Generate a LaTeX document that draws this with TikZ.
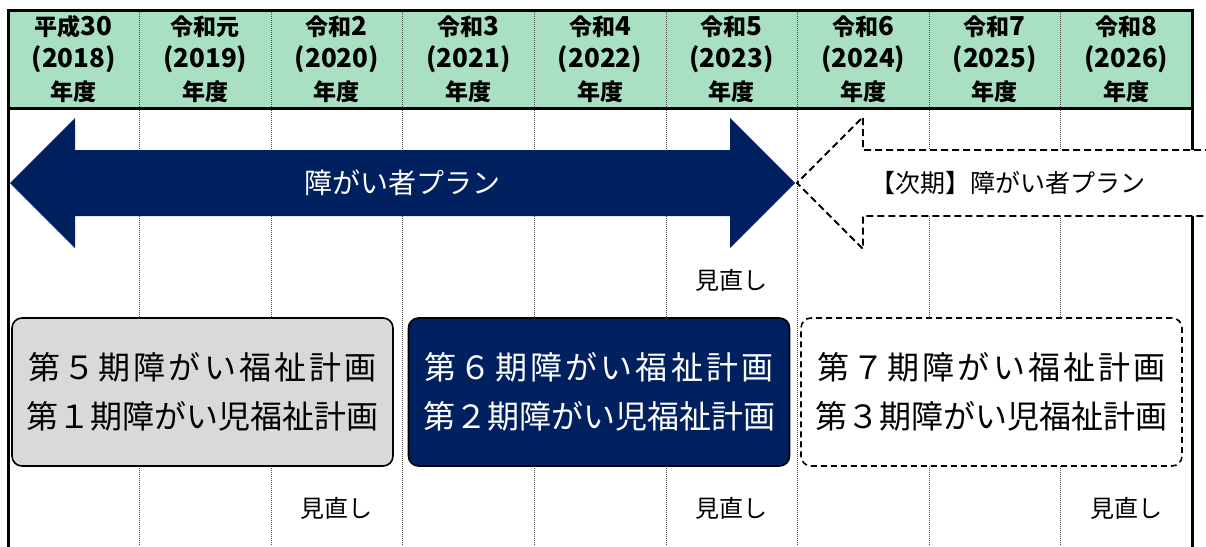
\documentclass[tikz,border=0pt]{standalone}
\usepackage{fontspec}
\setmainfont{Noto Sans CJK JP}
\definecolor{hdr}{HTML}{A9DFC3}
\definecolor{navy}{HTML}{002060}
\definecolor{boxgray}{HTML}{D9D9D9}
\begin{document}
\begin{tikzpicture}[x=1pt,y=-1pt,
  hdrtext/.style={align=center,inner sep=0pt,font=\bfseries\fontsize{23}{32.5}\selectfont},
  grid/.style={line width=0.6pt,black!70,dash pattern=on 1pt off 1pt},
  frame/.style={line width=3pt,black},
  plan/.style={rounded corners=10pt,line width=1.6pt,draw=black,minimum width=381pt,minimum height=148pt,align=center,inner sep=0pt,font=\fontsize{32}{49}\selectfont},
  revise/.style={inner sep=0pt,font=\fontsize{24}{26}\selectfont},
]
\newcommand\yr[1]{{\fontsize{26}{32.5}\selectfont #1}}
\useasboundingbox (0,0) rectangle (1206,546);
% header background
\fill[hdr] (8,10) rectangle (1192,108);
% dotted column separators
\foreach \i in {1,...,8}{
  \draw[grid] ({8+131.56*\i},10) -- ({8+131.56*\i},546);
}
% frame
\draw[frame] (8,548) -- (8,10) -- (1192,10) -- (1192,548);
\draw[frame] (8,108) -- (1192,108);
% header texts
\node[hdrtext] (h1) at (73.8,59) {平成\yr{30}\\\yr{(2018)}\\年度};
\node[hdrtext] (h2) at (205.3,59) {令和元\\\yr{(2019)}\\年度};
\node[hdrtext] (h3) at (336.9,59) {令和\yr{2}\\\yr{(2020)}\\年度};
\node[hdrtext] (h4) at (468.5,59) {令和\yr{3}\\\yr{(2021)}\\年度};
\node[hdrtext] (h5) at (600.0,59) {令和\yr{4}\\\yr{(2022)}\\年度};
\node[hdrtext] (h6) at (731.6,59) {令和\yr{5}\\\yr{(2023)}\\年度};
\node[hdrtext] (h7) at (863.2,59) {令和\yr{6}\\\yr{(2024)}\\年度};
\node[hdrtext] (h8) at (994.7,59) {令和\yr{7}\\\yr{(2025)}\\年度};
\node[hdrtext] (h9) at (1126.3,59) {令和\yr{8}\\\yr{(2026)}\\年度};
% current plan arrow
\fill[navy] (10,183) -- (75,118) -- (75,150) -- (730,150) -- (730,118) -- (795,183)
  -- (730,248) -- (730,216) -- (75,216) -- (75,248) -- cycle;
\node[text=white,inner sep=0pt,font=\fontsize{28}{30}\selectfont] (cur) at (402,183) {障がい者プラン};
% next plan arrow
\draw[fill=white,line width=1.8pt,dash pattern=on 7pt off 4pt]
  (1212,150) -- (863,150) -- (863,117) -- (797,183) -- (863,249) -- (863,216) -- (1212,216);
\node[inner sep=0pt,font=\fontsize{25}{27}\selectfont] (next) at (1008,183) {【次期】障がい者プラン};
% revision labels
\node[revise] (r1) at (731.6,280) {見直し};
\node[revise] (r2) at (336.9,508) {見直し};
\node[revise] (r3) at (731.6,508) {見直し};
\node[revise] (r4) at (1126.3,508) {見直し};
% plan boxes
\node[plan,fill=boxgray] (p5) at (202.5,392) {{\addfontfeature{LetterSpace=10}第５期障がい福祉計画}\\第１期障がい児福祉計画};
\node[plan,fill=navy,text=white] (p6) at (599,392) {{\addfontfeature{LetterSpace=10}第６期障がい福祉計画}\\第２期障がい児福祉計画};
\node[plan,fill=white,dash pattern=on 6pt off 4pt] (p7) at (991.5,392) {{\addfontfeature{LetterSpace=10}第７期障がい福祉計画}\\第３期障がい児福祉計画};
\end{tikzpicture}
\end{document}
